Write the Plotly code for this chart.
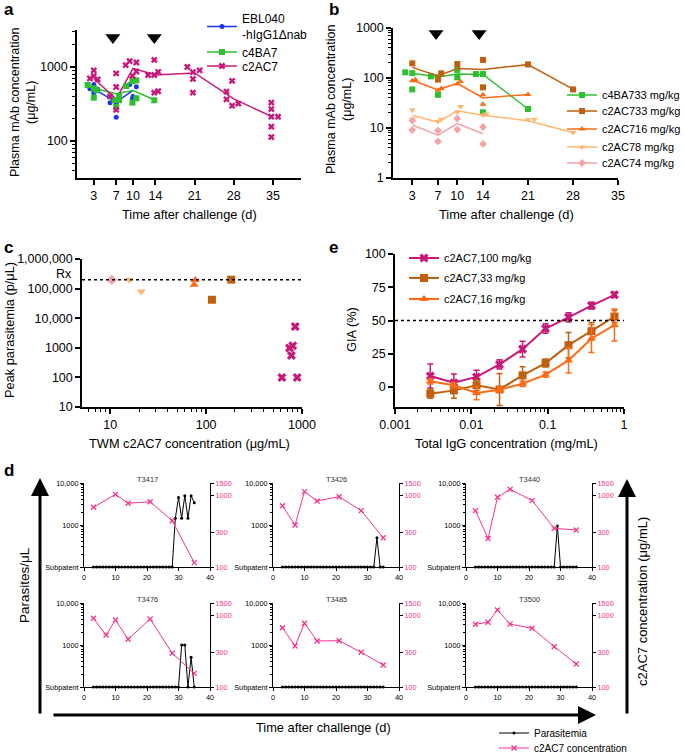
import math
import plotly.graph_objects as go

W, H = 685, 753
FONT = "Liberation Sans, Arial, Helvetica, sans-serif"

BLUE = "#1a35f0"
GREEN = "#2ec02e"
MAG = "#c8187a"
BROWN = "#c0600e"
ORANGE = "#ff6a14"
LORANGE = "#ffb66e"
LPINK = "#f4a3a8"
DPINK = "#f5338f"

# ---------------- Panel a data ----------------
a_ticks = [3, 7, 10, 14, 21, 28, 35]
ebl_x = [2.3, 3.0, 3.0, 3.7, 5.9, 6.5, 7.0, 7.0, 9.4, 9.9, 10.0, 10.6]
ebl_y = [510, 580, 450, 500, 330, 370, 330, 210, 580, 370, 400, 540]
ebl_mean_x = [3, 7, 10]
ebl_mean_y = [507, 335, 484]

c4_x = [1.9, 3.0, 3.0, 3.5, 6.7, 7.0, 7.5, 7.5, 8.8, 9.9, 9.9, 10.6, 10.6, 13.8]
c4_y = [571, 515, 385, 484, 358, 288, 355, 406, 553, 645, 330, 660, 378, 355]
c4_mean_x = [3, 7, 10, 14]
c4_mean_y = [515, 436, 480, 355]

c2_x = [2.3, 3.0, 3.0, 3.7, 5.9, 7.0, 7.0, 7.0, 8.7, 9.4, 9.9, 10.6, 10.6,
        12.7, 13.8, 13.8, 13.8, 14.5, 14.5, 19.7, 20.7, 20.7, 20.7, 21.9,
        26.7, 26.7, 27.7, 27.7, 28.8, 34.7, 34.7, 34.7, 34.7, 34.7, 35.9]
c2_y = [700, 900, 755, 680, 400, 820, 537, 263, 1060, 1200, 760, 1150, 870,
        780, 1250, 780, 450, 860, 470, 1000, 850, 690, 450, 900,
        464, 365, 650, 300, 320, 330, 270, 213, 156, 113, 213]
c2_mean_x = [3, 7, 10, 14, 21, 28, 35]
c2_mean_y = [700, 370, 960, 780, 830, 370, 210]

a_arrow_x = [6.4, 13.8]
a_arrow_y = [2500, 2500]

# ---------------- Panel b data ----------------
b_ticks = [3, 7, 10, 14, 21, 28, 35]
b4ba7_x = [1.9, 3, 3, 5.9, 7, 7, 10, 10, 12.9, 14, 14, 21]
b4ba7_y = [130, 125, 59, 108, 103, 46, 145, 103, 120, 120, 20.6, 24]
b4ba7_mx = [3, 7, 10, 14, 21]
b4ba7_my = [125, 105, 120, 118, 24]

b33_x = [3, 7, 7.5, 10, 14, 14, 21, 28]
b33_y = [196, 93, 124, 190, 230, 65, 187, 59]
b33_mx = [3, 7, 10, 14, 21, 28]
b33_my = [163, 110, 155, 148, 185, 60]

b16_x = [3, 3.5, 7, 7.5, 10, 10.5, 14, 14, 21]
b16_y = [88, 92, 57, 62, 76, 85, 46, 30, 47]
b16_mx = [3, 7, 10, 14, 21]
b16_my = [90, 58, 78, 40, 47]

b8_x = [3, 3, 7, 7.5, 10, 10.5, 14, 14.5, 21, 22, 28]
b8_y = [23, 15, 13.5, 15, 21, 27, 18, 19, 14.7, 15, 8.1]
b8_mx = [3, 7, 10, 14, 21, 28]
b8_my = [18, 13, 22, 18, 14, 8.1]

b4_x = [3, 3, 7, 7, 10, 10, 14, 14]
b4_y = [14, 9.1, 8.9, 5.4, 15.5, 9.3, 10.5, 4.8]
b4_mx = [3, 7, 10, 14]
b4_my = [11.5, 7.2, 12.3, 7.7]

b_arrow_x = [6.7, 13.4]
b_arrow_y = [780, 780]

# ---------------- Panel c data ----------------
c4_twm = [10.4]
c4_peak = [200000]
c8_twm = [15.8, 21]
c8_peak = [200000, 80000]
c16_twm = [77, 75]
c16_peak = [195000, 135000]
c33_twm = [183, 115]
c33_peak = [200000, 42000]
c100_twm = [617, 740, 800, 775, 850, 890]
c100_peak = [100, 980, 1170, 550, 5200, 100]
rx_level = 200000

# ---------------- Panel e data ----------------
e_conc = [0.0029, 0.0059, 0.0117, 0.0234, 0.0469, 0.0938, 0.1875, 0.375, 0.75]
e100 = [8.3, 3.3, 7.6, 17, 28.5, 44, 52.4, 61.2, 69.3]
e100_err = [9, 6.5, 5, 3.5, 6, 3.5, 3.5, 2.5, 2]
e33 = [-5, -2.5, 1.3, -1.8, 8.8, 18, 31.5, 42, 53]
e33_err = [3.5, 6, 4, 12, 6.5, 3, 9.5, 6.5, 4.5]
e16 = [4.3, 1.3, -4.5, -2, 2.5, 9.3, 20, 36.5, 46.6]
e16_err = [2, 2, 5, 2, 2, 2, 9.5, 10.5, 12]
gia_threshold = 50

# ---------------- Panel d data ----------------
d_names = ["T3417", "T3426", "T3440", "T3476", "T3485", "T3500"]
d_conc_days = [
    [3, 10, 14, 21, 28, 35],
    [3, 7, 10, 14, 21, 28, 35],
    [3, 7, 10, 14, 21, 28, 35],
    [3, 7, 10, 14, 21, 28, 35],
    [3, 7, 10, 14, 21, 28, 35],
    [3, 7, 10, 14, 21, 28, 35],
]
d_conc = [
    [685, 1040, 780, 820, 445, 115],
    [720, 387, 1135, 840, 965, 615, 257],
    [615, 251, 946, 1225, 850, 348, 330],
    [915, 535, 867, 466, 896, 297, 155],
    [677, 375, 780, 441, 445, 306, 203],
    [755, 806, 1197, 760, 664, 367, 210],
]
par_days = [3, 4, 5, 6, 7, 8, 9, 10, 11, 12, 13, 14, 15, 16, 17, 18, 19, 20, 21,
            22, 23, 24, 25, 26, 27, 28, 29, 30, 31, 32, 33, 34, 35]
# 100 = subpatent
d_par = [
    [100, 100, 100, 100, 100, 100, 100, 100, 100, 100, 100, 100, 100, 100, 100, 100, 100,
     100, 100, 100, 100, 100, 100, 100, 100, 100, 1450, 4500, 1450, 5000, 1450, 5000, 3400],
    [100, 100, 100, 100, 100, 100, 100, 100, 100, 100, 100, 100, 100, 100, 100, 100, 100,
     100, 100, 100, 100, 100, 100, 100, 100, 100, 100, 100, 100, 100, 500, 100, 100],
    [100, 100, 100, 100, 100, 100, 100, 100, 100, 100, 100, 100, 100, 100, 100, 100, 100,
     100, 100, 100, 100, 100, 100, 100, 100, 100, 950, 100, 100, 100, 100, 100, 100],
    [100, 100, 100, 100, 100, 100, 100, 100, 100, 100, 100, 100, 100, 100, 100, 100, 100,
     100, 100, 100, 100, 100, 100, 100, 100, 100, 100, 100, 1000, 1000, 100, 510, 100],
    [100, 100, 100, 100, 100, 100, 100, 100, 100, 100, 100, 100, 100, 100, 100, 100, 100,
     100, 100, 100, 100, 100, 100, 100, 100, 100, 100, 100, 100, 100, 100, 100, 100],
    [100, 100, 100, 100, 100, 100, 100, 100, 100, 100, 100, 100, 100, 100, 100, 100, 100,
     100, 100, 100, 100, 100, 100, 100, 100, 100, 100, 100, 100, 100, 100, 100, 100],
]
d_left_ticks = [100, 1000, 10000]
d_left_text = ["Subpatent", "1000", "10,000"]
d_right_ticks = [100, 300, 1000, 1500]
d_x_ticks = [0, 10, 20, 30, 40]

# ================= figure =================
fig = go.Figure()


def xd(a, b):
    return [a / W, b / W]


def yd(top, bottom):
    return [1 - bottom / H, 1 - top / H]


def px(x):
    return x / W


def py(y):
    return 1 - y / H


def add(**kw):
    kw.setdefault("cliponaxis", False)
    kw.setdefault("showlegend", False)
    fig.add_trace(go.Scatter(**kw))


def proxy(name, legend, color, symbol, size, xa, ya, lw=1.5):
    fig.add_trace(go.Scatter(x=[None], y=[None], mode="lines+markers", name=name,
                             legend=legend, showlegend=True, xaxis=xa, yaxis=ya,
                             line=dict(color=color, width=lw),
                             marker=dict(symbol=symbol, size=size, color=color)))


# ---- panel a ----
add(x=ebl_mean_x, y=ebl_mean_y, mode="lines", line=dict(color=BLUE, width=1.5), xaxis="x", yaxis="y")
add(x=c4_mean_x, y=c4_mean_y, mode="lines", line=dict(color=GREEN, width=1.5), xaxis="x", yaxis="y")
add(x=c2_mean_x, y=c2_mean_y, mode="lines", line=dict(color=MAG, width=1.5), xaxis="x", yaxis="y")
add(x=ebl_x, y=ebl_y, mode="markers", marker=dict(symbol="circle", size=5, color=BLUE), xaxis="x", yaxis="y")
add(x=c4_x, y=c4_y, mode="markers", marker=dict(symbol="square", size=6, color=GREEN), xaxis="x", yaxis="y")
add(x=c2_x, y=c2_y, mode="markers", marker=dict(symbol="x", size=6, color=MAG), xaxis="x", yaxis="y")
add(x=a_arrow_x, y=a_arrow_y, mode="markers", marker=dict(symbol="triangle-down", size=13, color="black"),
    xaxis="x", yaxis="y")
proxy("EBL040<br>-hIgG1Δnab", "legend", BLUE, "circle", 5, "x", "y")
proxy("c4BA7", "legend2", GREEN, "square", 6, "x", "y")
proxy("c2AC7", "legend3", MAG, "x", 6, "x", "y")

# ---- panel b ----
b_series = [
    (b4ba7_x, b4ba7_y, b4ba7_mx, b4ba7_my, GREEN, "square", "c4BA733 mg/kg", "legend4"),
    (b33_x, b33_y, b33_mx, b33_my, BROWN, "square", "c2AC733 mg/kg", "legend5"),
    (b16_x, b16_y, b16_mx, b16_my, ORANGE, "triangle-up", "c2AC716 mg/kg", "legend6"),
    (b8_x, b8_y, b8_mx, b8_my, LORANGE, "triangle-down", "c2AC78 mg/kg", "legend7"),
    (b4_x, b4_y, b4_mx, b4_my, LPINK, "diamond", "c2AC74 mg/kg", "legend8"),
]
for px_, py_, mx, my, col, sym, name, leg in b_series:
    add(x=mx, y=my, mode="lines", line=dict(color=col, width=1.5), xaxis="x2", yaxis="y2")
    add(x=px_, y=py_, mode="markers", marker=dict(symbol=sym, size=6, color=col), xaxis="x2", yaxis="y2")
    proxy(name, leg, col, sym, 6, "x2", "y2")
add(x=b_arrow_x, y=b_arrow_y, mode="markers", marker=dict(symbol="triangle-down", size=13, color="black"),
    xaxis="x2", yaxis="y2")

# ---- panel c ----
add(x=c4_twm, y=c4_peak, mode="markers", marker=dict(symbol="diamond", size=8, color=LPINK), xaxis="x3", yaxis="y3")
add(x=c8_twm, y=c8_peak, mode="markers", marker=dict(symbol="triangle-down", size=8, color=LORANGE), xaxis="x3", yaxis="y3")
add(x=c16_twm, y=c16_peak, mode="markers", marker=dict(symbol="triangle-up", size=8, color=ORANGE), xaxis="x3", yaxis="y3")
add(x=c33_twm, y=c33_peak, mode="markers", marker=dict(symbol="square", size=8, color=BROWN), xaxis="x3", yaxis="y3")
add(x=c100_twm, y=c100_peak, mode="markers", marker=dict(symbol="x", size=8, color=MAG), xaxis="x3", yaxis="y3")

# ---- panel e ----
e_series = [
    (e100, e100_err, MAG, "x", "c2AC7,100 mg/kg", "legend9"),
    (e33, e33_err, BROWN, "square", "c2AC7,33 mg/kg", "legend10"),
    (e16, e16_err, ORANGE, "triangle-up", "c2AC7,16 mg/kg", "legend11"),
]
for vals, err, col, sym, name, leg in e_series:
    add(x=e_conc, y=vals, mode="lines+markers", name=name, legend=leg, showlegend=True,
        line=dict(color=col, width=2), marker=dict(symbol=sym, size=8, color=col),
        error_y=dict(type="data", array=err, color=col, thickness=1.5, width=3),
        xaxis="x4", yaxis="y4")

# ---- panel d ----
for i in range(6):
    xa = f"x{5 + i}"
    yl = f"y{5 + i}"
    yr = f"y{11 + i}"
    add(x=par_days, y=d_par[i], mode="lines+markers", line=dict(color="black", width=1),
        marker=dict(symbol="circle", size=3, color="black"), xaxis=xa, yaxis=yl,
        name="Parasitemia", legend="legend12", showlegend=(i == 0))
    add(x=d_conc_days[i], y=d_conc[i], mode="lines+markers", line=dict(color=DPINK, width=1),
        marker=dict(symbol="x-thin", size=5, color=DPINK, line=dict(color=DPINK, width=1.3)),
        xaxis=xa, yaxis=yr, name="c2AC7 concentration", legend="legend13", showlegend=(i == 0))

# ================= layout =================
TICKF = dict(size=12.5, color="black", family=FONT)


def ax(**kw):
    d = dict(showline=True, linecolor="black", linewidth=1.5, ticks="outside", tickcolor="black",
             ticklen=5, tickwidth=1.5, showgrid=False, zeroline=False, tickfont=TICKF)
    d.update(kw)
    return d


def logminor(lo, hi, l=3):
    vals = [k * 10 ** e for e in range(lo, hi) for k in range(2, 10)]
    return dict(ticks="outside", ticklen=l, tickcolor="black", tickwidth=1, tickmode="array",
                tickvals=vals, showgrid=False)


layout = dict(
    width=W, height=H, margin=dict(l=0, r=0, t=0, b=0, pad=0, autoexpand=False),
    paper_bgcolor="white", plot_bgcolor="rgba(0,0,0,0)",
    font=dict(family=FONT, color="black", size=12),
    xaxis=ax(domain=xd(77, 301), range=[0, 40], anchor="y", tickmode="array", tickvals=a_ticks),
    yaxis=ax(domain=yd(30, 178), type="log", range=[1.5, 3.5], anchor="x", tickmode="array",
             tickvals=[100, 1000], ticktext=["100", "1000"], minor=logminor(1, 4)),
    xaxis2=ax(domain=xd(393, 618), range=[0, 35], anchor="y2", tickmode="array", tickvals=b_ticks),
    yaxis2=ax(domain=yd(28, 178), type="log", range=[0, 3], anchor="x2", tickmode="array",
              tickvals=[1, 10, 100, 1000], ticktext=["1", "10", "100", "1000"], minor=logminor(0, 3)),
    xaxis3=ax(domain=xd(82, 302), type="log", range=[0.706, 3], anchor="y3", tickmode="array",
              tickvals=[10, 100, 1000], ticktext=["10", "100", "1000"], minor=logminor(0, 3)),
    yaxis3=ax(domain=yd(259, 407), type="log", range=[1, 6], anchor="x3", tickmode="array",
              tickvals=[10, 100, 1000, 10000, 100000, 1000000],
              ticktext=["10", "100", "1000", "10,000", "100,000", "1,000,000"]),
    xaxis4=ax(domain=xd(395, 624), type="log", range=[-3, 0], anchor="y4", tickmode="array",
              tickvals=[0.001, 0.01, 0.1, 1], ticktext=["0.001", "0.01", "0.1", "1"], minor=logminor(-3, 0)),
    yaxis4=ax(domain=yd(254, 407), range=[-15, 100], anchor="x4", tickmode="array",
              tickvals=[0, 25, 50, 75, 100]),
)

DF = dict(size=7.3, color="black", family=FONT)
col_left = [84, 273, 466, 84, 273, 466]
row_top = [483, 483, 483, 603, 603, 603]
for i in range(6):
    l, t = col_left[i], row_top[i]
    layout[f"xaxis{5 + i}"] = ax(domain=xd(l, l + 126), range=[0, 40], anchor=f"y{5 + i}",
                                 tickmode="array", tickvals=d_x_ticks, linewidth=1, tickwidth=1,
                                 ticklen=3, tickfont=DF)
    layout[f"yaxis{5 + i}"] = ax(domain=yd(t, t + 84), type="log", range=[2, 4], anchor=f"x{5 + i}",
                                 tickmode="array", tickvals=d_left_ticks, ticktext=d_left_text,
                                 linewidth=1, tickwidth=1, ticklen=3, tickfont=DF, minor=logminor(2, 4, 2))
    layout[f"yaxis{11 + i}"] = ax(overlaying=f"y{5 + i}", side="right", anchor=f"x{5 + i}", type="log",
                                  range=[2, math.log10(1500)], tickmode="array",
                                  tickvals=d_right_ticks, ticktext=[str(v) for v in d_right_ticks],
                                  linewidth=1, tickwidth=1, ticklen=3,
                                  tickfont=dict(size=7.3, color=DPINK, family=FONT))

# legends: (text left px, symbol centre y px, font size)
leg_pos = {
    "legend": (243, 27, 12), "legend2": (243, 52, 12), "legend3": (243, 66, 12),
    "legend4": (603, 95, 11), "legend5": (603, 111, 11), "legend6": (603, 129, 11),
    "legend7": (603, 147, 11), "legend8": (603, 163, 11),
    "legend9": (445, 258, 11), "legend10": (445, 278, 11), "legend11": (445, 299, 11),
    "legend12": (535, 733, 10), "legend13": (535, 748, 10),
}
for k, (tx, cy, fs) in leg_pos.items():
    layout[k] = dict(x=px(tx - 41), y=py(cy), xanchor="left", yanchor="middle",
                     bgcolor="rgba(0,0,0,0)", borderwidth=0, font=dict(size=fs, family=FONT, color="black"),
                     itemwidth=30, itemclick=False, itemdoubleclick=False)

fig.update_layout(**layout)

# reference lines
fig.add_shape(type="line", xref="x3 domain", x0=0, x1=1, yref="y3", y0=rx_level, y1=rx_level,
              line=dict(color="black", width=1.5, dash="dot"))
fig.add_shape(type="line", xref="x4 domain", x0=0, x1=1, yref="y4", y0=gia_threshold, y1=gia_threshold,
              line=dict(color="black", width=1.5, dash="dot"))

ann = []


def text(t, x, y, size=12.5, angle=0, bold=False, color="black", xanchor="center"):
    ann.append(dict(text=(f"<b>{t}</b>" if bold else t), x=px(x), y=py(y), xref="paper", yref="paper",
                    showarrow=False, textangle=angle, xanchor=xanchor, yanchor="middle",
                    font=dict(size=size, family=FONT, color=color)))


text("a", 2, 10, 17, bold=True, xanchor="left")
text("b", 327, 10, 17, bold=True, xanchor="left")
text("c", 2, 248, 17, bold=True, xanchor="left")
text("e", 327, 248, 17, bold=True, xanchor="left")
text("d", 2, 470, 17, bold=True, xanchor="left")

text("Rx", 74, 274, 12.5, xanchor="right")

text("Plasma mAb concentration<br>(μg/mL)", 23, 103, 12.5, angle=-90)
text("Plasma mAb concentration<br>(μg/mL)", 339, 100, 12.5, angle=-90)
text("Time after challenge (d)", 189, 215, 12.8)
text("Time after challenge (d)", 506, 215, 12.8)
text("Peak parasitemia (p/μL)", 9, 330, 12.8, angle=-90)
text("TWM c2AC7 concentration (μg/mL)", 189, 443, 12.8)
text("GIA (%)", 351, 330, 12.8, angle=-90)
text("Total IgG concentration (mg/mL)", 506, 443, 12.8)

for i in range(6):
    text(d_names[i], col_left[i] + 63, row_top[i] - 4, 7.5, color="#333")

text("Parasites/μL", 24, 585, 13.5, angle=-90)
text("c2AC7 concentration (μg/mL)", 642, 602, 13, angle=-90)
text("Time after challenge (d)", 323, 727, 12.8)

# big arrows
ann.append(dict(x=px(40), y=py(478), xref="paper", yref="paper", ax=0, ay=237, axref="pixel", ayref="pixel",
                showarrow=True, arrowhead=2, arrowsize=1.2, arrowwidth=3, arrowcolor="black", text=""))
ann.append(dict(x=px(596), y=py(715), xref="paper", yref="paper", ax=-544, ay=0, axref="pixel", ayref="pixel",
                showarrow=True, arrowhead=2, arrowsize=1.2, arrowwidth=3, arrowcolor="black", text=""))
ann.append(dict(x=px(627), y=py(479), xref="paper", yref="paper", ax=0, ay=236, axref="pixel", ayref="pixel",
                showarrow=True, arrowhead=2, arrowsize=1.2, arrowwidth=3, arrowcolor="black", text=""))

fig.update_layout(annotations=ann)
fig.write_html("out.html", config={"displayModeBar": False},
               post_script="document.body.style.margin='0';document.body.style.overflow='hidden';")
